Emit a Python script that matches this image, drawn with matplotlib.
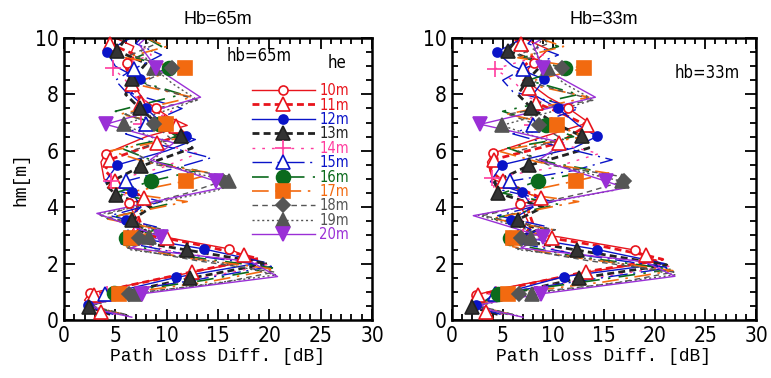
import matplotlib
matplotlib.use("Agg")
import matplotlib.pyplot as plt
from matplotlib.lines import Line2D
from matplotlib.ticker import MultipleLocator
from matplotlib import font_manager

# ---------------------------------------------------------------------------
# Data: path-loss difference [dB] vs mobile height hm [m] for each he
# (vertices; Mxx = hm of the drawn markers)
# ---------------------------------------------------------------------------

HE_LABELS = ["10m", "11m", "12m", "13m", "14m", "15m",
             "16m", "17m", "18m", "19m", "20m"]

# ---- Hb = 65 m ----
H65_10 = [0.3, 0.7, 0.95, 1.13, 1.71, 2.13, 2.52, 2.95, 3.07, 3.5, 4.14, 4.3, 5.0, 5.6, 5.9, 6.5, 6.9, 7.2, 7.5, 7.8, 8.2, 8.9, 9.1, 9.7, 10.0]
X65_10 = [3.5, 2.0, 2.5, 4.9, 12.7, 18.5, 16.1, 9.7, 6.5, 7.2, 6.3, 8.1, 3.9, 3.6, 4.06, 8.0, 12.0, 10.2, 9.0, 7.8, 7.0, 6.3, 6.1, 6.8, 5.0]
M65_10 = [0.95, 2.52, 4.14, 5.9, 7.5, 9.1]

H65_11 = [0.3, 0.6, 0.89, 1.2, 1.71, 2.18, 2.3, 2.6, 2.9, 3.05, 3.4, 3.9, 4.33, 4.92, 5.3, 5.69, 6.28, 6.6, 6.88, 7.3, 7.7, 8.36, 9.0, 9.4, 9.78, 10.0]
X65_11 = [3.6, 2.2, 2.9, 6.0, 12.5, 18.9, 17.5, 14.0, 10.0, 7.0, 7.5, 7.0, 7.8, 5.0, 4.0, 4.5, 9.1, 11.8, 10.9, 9.5, 7.5, 6.65, 6.0, 7.0, 4.5, 5.0]
M65_11 = [0.3, 0.89, 1.71, 2.3, 2.9, 4.33, 4.92, 5.69, 6.28, 6.88, 7.7, 8.36, 9.78]

H65_12 = [0.25, 0.53, 1.0, 1.51, 2.05, 2.52, 2.95, 3.2, 3.56, 4.0, 4.53, 4.9, 5.5, 6.0, 6.4, 6.51, 7.0, 7.5, 8.0, 8.53, 9.0, 9.5, 9.8, 10.0]
X65_12 = [4.0, 2.37, 5.0, 10.9, 19.5, 13.6, 6.5, 7.5, 6.0, 7.5, 6.65, 4.0, 5.2, 10.0, 12.8, 11.85, 9.5, 8.0, 6.5, 7.4, 5.0, 4.2, 5.5, 6.5]
M65_12 = [0.53, 1.51, 2.52, 3.56, 4.53, 5.5, 6.51, 7.5, 8.53, 9.5]

H65_13 = [0.2, 0.47, 1.0, 1.48, 2.0, 2.48, 2.85, 3.2, 3.56, 4.0, 4.44, 4.8, 5.45, 6.1, 6.51, 7.0, 7.5, 8.0, 8.53, 9.1, 9.54, 10.0]
X65_13 = [4.5, 2.4, 6.0, 12.3, 19.8, 12.0, 6.0, 8.0, 6.65, 8.5, 5.1, 4.0, 7.5, 12.5, 11.4, 9.0, 7.4, 6.0, 6.65, 8.0, 5.2, 6.0]
M65_13 = [0.47, 1.48, 2.48, 3.56, 4.44, 5.45, 6.51, 7.5, 8.53, 9.54]

H65_14 = [0.2, 0.45, 0.93, 1.4, 1.95, 2.4, 2.8, 2.93, 3.3, 3.7, 4.2, 4.6, 4.93, 5.4, 5.9, 6.3, 6.94, 7.4, 7.9, 8.5, 8.93, 9.4, 10.0]
X65_14 = [5.0, 2.6, 4.2, 12.0, 20.0, 11.0, 6.2, 6.8, 8.5, 5.5, 8.0, 4.5, 4.6, 9.5, 13.0, 9.0, 7.5, 10.5, 7.0, 6.0, 4.8, 8.5, 7.0]
M65_14 = [0.93, 2.93, 4.93, 6.94, 8.93]

H65_15 = [0.2, 0.45, 0.93, 1.4, 1.9, 2.35, 2.75, 2.93, 3.3, 3.7, 4.2, 4.6, 4.92, 5.4, 5.75, 6.2, 6.6, 6.94, 7.5, 8.1, 8.5, 8.9, 9.4, 9.8, 10.0]
X65_15 = [4.8, 2.5, 4.0, 12.5, 20.2, 11.5, 6.0, 6.2, 9.0, 4.5, 9.5, 5.0, 6.0, 11.0, 14.3, 9.5, 6.0, 7.95, 11.5, 6.0, 5.0, 6.8, 9.5, 7.0, 7.5]
M65_15 = [0.93, 2.93, 4.92, 6.94, 8.9]

H65_16 = [0.2, 0.5, 0.95, 1.4, 1.85, 2.3, 2.7, 2.9, 3.2, 3.6, 4.1, 4.5, 4.93, 5.3, 5.6, 6.1, 6.5, 6.94, 7.4, 8.0, 8.5, 8.93, 9.3, 9.7, 10.0]
X65_16 = [5.5, 2.5, 4.9, 13.5, 20.3, 11.0, 6.0, 6.0, 9.0, 4.2, 10.0, 5.0, 8.5, 13.0, 9.0, 5.5, 11.0, 9.25, 5.0, 11.5, 7.0, 10.2, 7.0, 9.5, 8.0]
M65_16 = [0.95, 2.9, 4.93, 6.94, 8.93]

H65_17 = [0.2, 0.5, 0.93, 1.35, 1.8, 2.2, 2.6, 2.9, 3.2, 3.6, 4.2, 4.5, 4.93, 5.2, 5.6, 6.0, 6.5, 6.94, 7.3, 7.9, 8.4, 8.93, 9.3, 9.7, 10.0]
X65_17 = [5.8, 2.5, 5.35, 14.0, 20.5, 12.0, 6.0, 6.5, 9.5, 4.0, 12.0, 6.0, 11.9, 14.5, 8.0, 4.5, 12.0, 9.9, 5.5, 12.5, 6.5, 11.8, 6.0, 10.0, 8.0]
M65_17 = [0.93, 2.9, 4.93, 6.94, 8.93]

H65_18 = [0.2, 0.5, 0.93, 1.3, 1.7, 2.1, 2.55, 2.9, 3.2, 3.7, 4.5, 4.93, 5.1, 5.5, 6.0, 6.4, 6.94, 7.3, 7.8, 8.4, 8.93, 9.4, 9.8, 10.0]
X65_18 = [6.0, 2.6, 6.3, 15.0, 20.5, 13.0, 6.2, 7.3, 9.8, 3.6, 12.0, 15.5, 16.0, 9.0, 6.5, 10.5, 8.8, 6.0, 13.0, 7.5, 10.5, 6.5, 9.0, 8.5]
M65_18 = [0.93, 2.9, 4.93, 6.94, 8.93]

H65_19 = [0.15, 0.5, 0.93, 1.6, 2.05, 2.5, 2.93, 3.2, 3.75, 4.6, 4.92, 5.1, 5.6, 6.2, 6.94, 7.8, 8.4, 8.93, 9.5, 10.0]
X65_19 = [6.3, 2.6, 6.9, 20.7, 15.0, 6.3, 8.3, 8.0, 3.3, 15.0, 16.1, 14.0, 8.5, 10.2, 5.85, 13.0, 10.5, 8.8, 7.5, 8.5]
M65_19 = [0.93, 2.93, 4.92, 6.94, 8.93]

H65_20 = [0.1, 0.35, 0.55, 0.93, 1.54, 2.07, 2.55, 2.95, 3.78, 4.78, 4.92, 5.68, 6.28, 6.94, 7.9, 8.93, 9.78, 10.0]
X65_20 = [6.6, 3.5, 2.6, 7.6, 20.8, 18.2, 6.5, 9.4, 3.2, 16.6, 14.8, 8.4, 10.7, 4.06, 13.3, 9.0, 7.3, 8.0]
M65_20 = [0.93, 2.95, 4.92, 6.94, 8.93]

# ---- Hb = 33 m ----
H33_10 = [0.3, 0.7, 0.89, 1.13, 1.71, 2.07, 2.48, 2.95, 3.07, 3.5, 4.1, 4.3, 5.0, 5.6, 5.92, 6.5, 7.0, 7.53, 7.9, 8.3, 8.9, 9.12, 9.6, 10.0]
X33_10 = [3.4, 1.9, 2.4, 5.0, 13.5, 20.3, 18.05, 10.5, 6.8, 7.5, 6.7, 8.8, 4.0, 3.5, 4.07, 9.0, 13.5, 11.4, 9.5, 8.0, 7.5, 8.1, 9.5, 7.0]
M33_10 = [0.89, 2.48, 4.1, 5.92, 7.53, 9.12]

H33_11 = [0.3, 0.6, 0.89, 1.2, 1.71, 2.15, 2.3, 2.6, 2.9, 3.05, 3.4, 3.9, 4.33, 4.92, 5.3, 5.69, 6.28, 6.9, 7.3, 7.7, 8.24, 8.8, 9.3, 9.78, 10.0]
X33_11 = [3.4, 2.1, 2.6, 6.5, 13.2, 20.8, 19.1, 15.0, 9.9, 7.2, 8.0, 7.5, 8.8, 5.0, 3.8, 4.1, 10.6, 13.3, 11.0, 8.3, 7.6, 6.5, 8.0, 6.8, 6.0]
M33_11 = [0.3, 0.89, 1.71, 2.3, 2.9, 4.33, 4.92, 5.69, 6.28, 6.9, 7.7, 8.24, 9.78]

H33_12 = [0.25, 0.53, 1.0, 1.54, 2.0, 2.5, 2.95, 3.2, 3.56, 4.0, 4.53, 4.9, 5.5, 6.1, 6.51, 6.9, 7.5, 8.0, 8.53, 9.0, 9.5, 9.8, 10.0]
X33_12 = [4.0, 2.4, 5.5, 11.05, 21.0, 14.3, 6.8, 7.8, 5.85, 8.0, 6.9, 3.8, 4.9, 12.0, 14.3, 12.5, 10.5, 8.0, 9.1, 6.0, 4.4, 6.0, 7.0]
M33_12 = [0.53, 1.54, 2.5, 3.56, 4.53, 5.5, 6.51, 7.5, 8.53, 9.5]

H33_13 = [0.2, 0.46, 1.0, 1.48, 1.95, 2.48, 2.85, 3.2, 3.56, 4.0, 4.5, 4.9, 5.48, 6.1, 6.51, 7.0, 7.53, 8.0, 8.53, 9.1, 9.54, 10.0]
X33_13 = [4.5, 1.95, 6.5, 12.5, 21.2, 12.3, 6.2, 8.5, 6.5, 9.0, 4.55, 4.2, 7.6, 13.5, 12.85, 10.0, 7.8, 6.5, 7.5, 9.0, 5.5, 6.5]
M33_13 = [0.46, 1.48, 2.48, 3.56, 4.5, 5.48, 6.51, 7.53, 8.53, 9.54]

H33_14 = [0.2, 0.45, 0.93, 1.4, 1.9, 2.4, 2.8, 2.93, 3.3, 3.7, 4.2, 4.6, 5.04, 5.4, 5.9, 6.3, 6.9, 7.4, 7.9, 8.5, 8.9, 9.4, 10.0]
X33_14 = [5.0, 2.5, 4.3, 12.5, 21.4, 11.5, 6.5, 7.0, 9.0, 5.5, 8.5, 4.2, 3.9, 10.0, 14.5, 10.0, 7.9, 11.5, 7.5, 6.0, 4.2, 9.0, 7.5]
M33_14 = [0.93, 2.93, 5.04, 6.9, 8.9]

H33_15 = [0.2, 0.45, 0.93, 1.4, 1.85, 2.35, 2.75, 2.93, 3.3, 3.7, 4.2, 4.6, 4.92, 5.3, 5.68, 6.2, 6.6, 6.9, 7.5, 8.1, 8.5, 8.9, 9.4, 9.8, 10.0]
X33_15 = [4.8, 2.4, 4.2, 13.0, 21.5, 12.0, 6.2, 6.5, 9.5, 4.5, 10.0, 5.0, 5.7, 12.0, 15.8, 10.0, 6.0, 8.0, 12.5, 6.0, 5.0, 7.0, 10.5, 7.5, 8.0]
M33_15 = [0.93, 2.93, 4.92, 6.9, 8.9]

H33_16 = [0.2, 0.5, 0.93, 1.4, 1.8, 2.3, 2.7, 2.9, 3.2, 3.6, 4.1, 4.5, 4.93, 5.3, 5.6, 6.1, 6.5, 6.9, 7.4, 8.0, 8.5, 8.93, 9.3, 9.7, 10.0]
X33_16 = [5.5, 2.4, 4.55, 14.0, 21.6, 11.5, 6.0, 5.7, 9.5, 4.0, 10.5, 5.0, 8.5, 14.0, 9.5, 5.5, 12.0, 9.3, 5.0, 12.5, 7.5, 11.2, 7.0, 10.5, 8.5]
M33_16 = [0.93, 2.9, 4.93, 6.9, 8.93]

H33_17 = [0.2, 0.5, 0.93, 1.35, 1.75, 2.2, 2.6, 2.9, 3.2, 3.6, 4.2, 4.5, 4.93, 5.2, 5.6, 6.0, 6.5, 6.9, 7.3, 7.9, 8.4, 8.93, 9.3, 9.7, 10.0]
X33_17 = [5.8, 2.5, 5.5, 15.0, 21.8, 12.5, 6.0, 6.0, 10.0, 4.0, 12.5, 6.5, 12.2, 15.5, 8.5, 4.5, 13.0, 10.4, 5.5, 13.5, 7.0, 13.0, 6.5, 11.0, 8.5]
M33_17 = [0.93, 2.9, 4.93, 6.9, 8.93]

H33_18 = [0.2, 0.5, 0.93, 1.3, 1.7, 2.1, 2.55, 2.9, 3.2, 3.7, 4.5, 4.93, 5.1, 5.5, 6.0, 6.4, 6.9, 7.3, 7.8, 8.4, 8.93, 9.4, 9.8, 10.0]
X33_18 = [6.0, 2.6, 6.6, 16.0, 21.9, 13.5, 6.3, 6.8, 10.2, 3.0, 13.0, 17.0, 16.5, 9.5, 6.5, 11.0, 8.6, 5.5, 14.0, 8.0, 10.9, 6.5, 9.5, 9.0]
M33_18 = [0.93, 2.9, 4.93, 6.9, 8.93]

H33_19 = [0.15, 0.5, 0.93, 1.6, 2.05, 2.5, 2.9, 3.2, 3.72, 4.6, 4.92, 5.1, 5.6, 6.2, 6.9, 7.8, 8.4, 8.93, 9.5, 10.0]
X33_19 = [6.5, 2.6, 7.9, 22.0, 16.0, 6.5, 7.8, 7.5, 2.6, 16.0, 16.8, 14.5, 9.0, 10.8, 4.9, 14.0, 11.0, 9.5, 8.0, 9.0]
M33_19 = [0.93, 2.9, 4.92, 6.9, 8.93]

H33_20 = [0.1, 0.35, 0.55, 0.93, 1.55, 2.07, 2.55, 2.95, 3.7, 4.68, 4.92, 5.68, 6.28, 6.94, 7.9, 8.93, 9.78, 10.0]
X33_20 = [7.0, 3.8, 2.8, 8.8, 22.0, 19.0, 6.8, 8.95, 2.1, 17.1, 15.2, 8.6, 11.0, 2.8, 14.15, 8.95, 8.0, 9.0]
M33_20 = [0.93, 2.95, 4.92, 6.94, 8.93]

SERIES_65 = [(H65_10, X65_10, M65_10), (H65_11, X65_11, M65_11),
             (H65_12, X65_12, M65_12), (H65_13, X65_13, M65_13),
             (H65_14, X65_14, M65_14), (H65_15, X65_15, M65_15),
             (H65_16, X65_16, M65_16), (H65_17, X65_17, M65_17),
             (H65_18, X65_18, M65_18), (H65_19, X65_19, M65_19),
             (H65_20, X65_20, M65_20)]
SERIES_33 = [(H33_10, X33_10, M33_10), (H33_11, X33_11, M33_11),
             (H33_12, X33_12, M33_12), (H33_13, X33_13, M33_13),
             (H33_14, X33_14, M33_14), (H33_15, X33_15, M33_15),
             (H33_16, X33_16, M33_16), (H33_17, X33_17, M33_17),
             (H33_18, X33_18, M33_18), (H33_19, X33_19, M33_19),
             (H33_20, X33_20, M33_20)]

# ---------------------------------------------------------------------------
# Styles (one per he)
# ---------------------------------------------------------------------------
RED, BLUE, BLACK = "#e8141c", "#0a14c8", "#222222"
PINK, GREEN, ORANGE = "#ff3c9e", "#0b6a1c", "#f26a10"
GREY, PURPLE = "#555555", "#9a2fd6"

STYLES = [
    dict(color=RED, ls="-", lw=1.0, marker="o", mfc="white", ms=6.5),
    dict(color=RED, ls=(0, (2.5, 1.5)), lw=2.0, marker="^", mfc="white", ms=10),
    dict(color=BLUE, ls="-", lw=1.0, marker="o", mfc=BLUE, ms=6.5),
    dict(color=BLACK, ls=(0, (2.5, 1.5)), lw=2.0, marker="^", mfc="#333333", ms=10),
    dict(color=PINK, ls=(0, (2, 5)), lw=1.0, marker="+", mfc=PINK, ms=11),
    dict(color=BLUE, ls=(0, (14, 4, 1.5, 4)), lw=1.0, marker="^", mfc="white", ms=10),
    dict(color=GREEN, ls=(0, (10, 5, 1.5, 5)), lw=1.2, marker="o", mfc=GREEN, ms=10),
    dict(color=ORANGE, ls=(0, (10, 4, 1.5, 4)), lw=1.2, marker="s", mfc=ORANGE, ms=9.5),
    dict(color=GREY, ls=(0, (4, 3)), lw=1.0, marker="D", mfc=GREY, ms=7),
    dict(color=GREY, ls=(0, (1.5, 2)), lw=1.0, marker="^", mfc=GREY, ms=10),
    dict(color=PURPLE, ls="-", lw=1.0, marker="v", mfc=PURPLE, ms=10),
]

_names = {f.name for f in font_manager.fontManager.ttflist}
NARROW_FP = font_manager.FontProperties(family=["DejaVu Sans"], stretch="condensed")
if "Liberation Sans Narrow" in _names:
    NARROW_FP = font_manager.FontProperties(family=["Liberation Sans Narrow"])
MONO = ["Liberation Mono", "DejaVu Sans Mono"]


def narrow(size):
    fp = NARROW_FP.copy()
    fp.set_size(size)
    return fp


def draw_panel(ax, series):
    for (hm, x, marks), st in zip(series, STYLES):
        ax.plot(x, hm, color=st["color"], ls=st["ls"], lw=st["lw"], zorder=2)
    for (hm, x, marks), st in zip(series, STYLES):
        idx = [hm.index(v) for v in marks]
        ax.plot([x[i] for i in idx], [hm[i] for i in idx], ls="none",
                marker=st["marker"], ms=st["ms"], mfc=st["mfc"],
                mec=st["color"], mew=1.2, zorder=3, clip_on=False)

    ax.set_xlim(0, 30)
    ax.set_ylim(0, 10)
    ax.xaxis.set_major_locator(MultipleLocator(5))
    ax.xaxis.set_minor_locator(MultipleLocator(1))
    ax.yaxis.set_major_locator(MultipleLocator(2))
    ax.yaxis.set_minor_locator(MultipleLocator(0.5))
    ax.tick_params(which="both", direction="in", top=True, right=True,
                   width=1.3, pad=4)
    ax.tick_params(which="major", length=8)
    ax.tick_params(which="minor", length=4)
    for lab in ax.get_xticklabels() + ax.get_yticklabels():
        lab.set_fontproperties(narrow(15))
    for sp in ax.spines.values():
        sp.set_linewidth(1.8)
    ax.set_xlabel("Path Loss Diff. [dB]", family=MONO, fontsize=13, labelpad=2)


fig = plt.figure(figsize=(7.71, 3.78), dpi=100)
ax1 = fig.add_axes([64 / 771, 58 / 378, 308 / 771, 282 / 378])
ax2 = fig.add_axes([452 / 771, 58 / 378, 304 / 771, 282 / 378])

draw_panel(ax1, SERIES_65)
draw_panel(ax2, SERIES_33)

ax1.set_title("Hb=65m", fontsize=13, pad=10, family="Liberation Sans")
ax2.set_title("Hb=33m", fontsize=13, pad=10, family="Liberation Sans")
ax1.set_ylabel("hm[m]", family=MONO, fontsize=13, labelpad=4)

ax1.text(0.635, 0.935, "hb=65m", transform=ax1.transAxes, ha="center",
         va="center", fontproperties=narrow(12))
ax1.text(0.887, 0.91, "he", transform=ax1.transAxes, ha="center",
         va="center", fontproperties=narrow(12))
ax2.text(0.84, 0.876, "hb=33m", transform=ax2.transAxes, ha="center",
         va="center", fontproperties=narrow(12))

handles = [Line2D([], [], color=st["color"], ls=st["ls"], lw=st["lw"],
                  marker=st["marker"], ms=st["ms"], mfc=st["mfc"],
                  mec=st["color"], mew=1.2) for st in STYLES]
leg = ax1.legend(handles, HE_LABELS, loc="upper right",
                 bbox_to_anchor=(0.925, 0.84), frameon=False,
                 handlelength=4.3, handletextpad=0.3, labelspacing=-0.04,
                 borderpad=0, borderaxespad=0, prop=narrow(10.5))
for txt, st in zip(leg.get_texts(), STYLES):
    txt.set_color(st["color"])

fig.savefig("out.png", dpi=100)
